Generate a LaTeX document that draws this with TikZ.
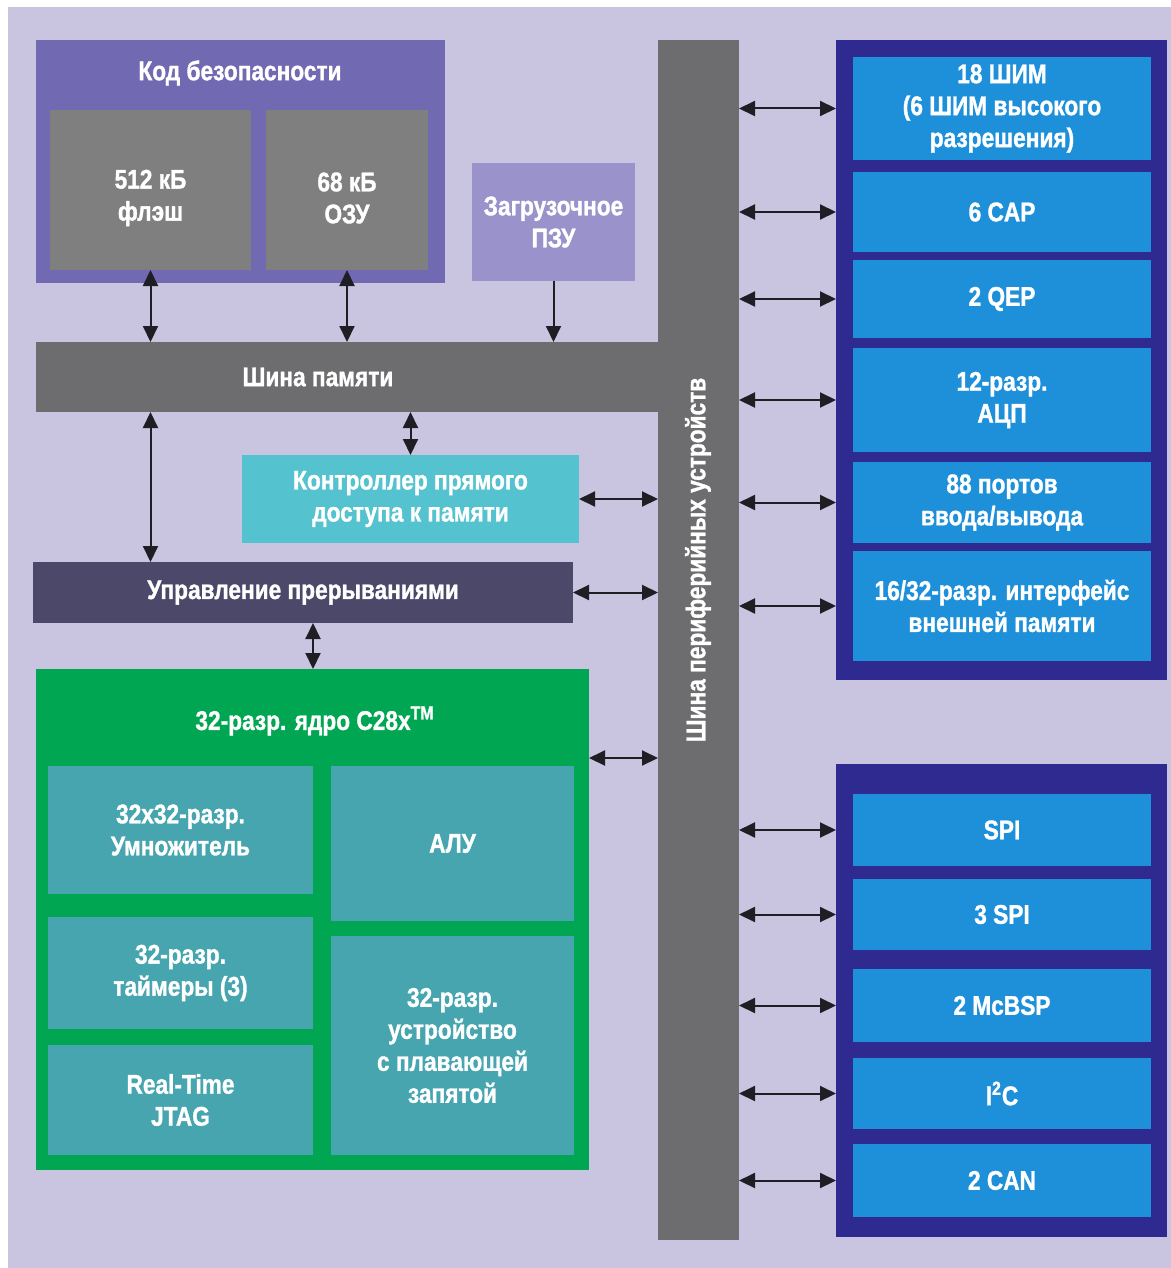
\documentclass[tikz,border=0pt]{standalone}
\usepackage{fontspec}
\setmainfont{Liberation Sans}[FakeStretch=0.84, BoldFeatures={FakeBold=1.2}]
\usetikzlibrary{arrows.meta,fit,calc}

\definecolor{lav}{HTML}{C9C5E1}
\definecolor{secpurple}{HTML}{7269B3}
\definecolor{memgray}{HTML}{7F7F7F}
\definecolor{bootpurple}{HTML}{9A92CB}
\definecolor{busgray}{HTML}{6D6D70}
\definecolor{dmacyan}{HTML}{55C3CF}
\definecolor{irqslate}{HTML}{4B4869}
\definecolor{coregreen}{HTML}{00A651}
\definecolor{coreteal}{HTML}{46A5AF}
\definecolor{navy}{HTML}{2F2A8F}
\definecolor{periblue}{HTML}{1E90DA}
\definecolor{arrowink}{HTML}{1E1E24}

\begin{document}
\begin{tikzpicture}[x=0.5pt,y=-0.5pt,
  blk/.style={inner sep=0pt, outer sep=0pt},
  txt/.style={inner sep=0pt, text=white, align=center,
    font=\bfseries\fontsize{13.5}{16}\selectfont},
  % a filled block whose caption sits at its centre
  cap/.style={label={[txt]center:#1}},
  % same, caption set a little below the centre
  lowcap/.style={label={[txt, yshift=-4pt]center:#1}},
  bi/.style={{Triangle[length=8pt,width=7.5pt]}-{Triangle[length=8pt,width=7.5pt]},
    line width=1pt, draw=arrowink},
  one/.style={-{Triangle[length=8pt,width=7.5pt]}, line width=1pt, draw=arrowink}]

% page and backdrop
\fill[white] (0,0) rectangle (1171,1268);
\fill[lav] (8,7) rectangle (1171,1268);
\useasboundingbox (0,0) rectangle (1171,1268);

% memory section
\node[blk, fill=secpurple, fit={(36,40) (445,283)}] (sec) {};
\node[txt] (sectitle) at (240,73) {Код безопасности};
\node[blk, fill=memgray, fit={(50,110) (251,270)}, lowcap={512 кБ\\флэш}] (flash) {};
\node[blk, fill=memgray, fit={(266,110) (428,270)}, lowcap={68 кБ\\ОЗУ}] (ram) {};
\node[blk, fill=bootpurple, fit={(472,163) (635,281)}, cap={Загрузочное\\ПЗУ}] (boot) {};

% buses
\node[blk, fill=busgray, fit={(36,342) (660,412)}] (membus) {};
\node[txt] (membuslabel) at (318,377) {Шина памяти};
\node[blk, fill=busgray, fit={(658,40) (739,1240)}] (pbus) {};
\node[txt, rotate=90] (pbuslabel) at (698,560) {Шина периферийных устройств};

% DMA and interrupts
\node[blk, fill=dmacyan, fit={(242,455) (579,543)}, cap={Контроллер прямого\\доступа к памяти}] (dma) {};
\node[blk, fill=irqslate, fit={(33,562) (573,623)}, cap={Управление прерываниями}] (irq) {};

% CPU core
\node[blk, fill=coregreen, fit={(36,669) (589,1170)}] (core) {};
\node[txt] (coretitle) at (315,721) {32-разр. ядро C28x\textsuperscript{TM}};
\node[blk, fill=coreteal, fit={(48,766) (313,894)}, cap={32x32-разр.\\Умножитель}] (mult) {};
\node[blk, fill=coreteal, fit={(331,766) (574,921)}, cap={АЛУ}] (alu) {};
\node[blk, fill=coreteal, fit={(48,917) (313,1029)}, cap={32-разр.\\таймеры (3)}] (timers) {};
\node[blk, fill=coreteal, fit={(48,1045) (313,1155)}, cap={Real-Time\\JTAG}] (jtag) {};
\node[blk, fill=coreteal, fit={(331,936) (574,1155)}, cap={32-разр.\\устройство\\с плавающей\\запятой}] (fpu) {};

% control peripherals
\node[blk, fill=navy, fit={(836,40) (1167,680)}] (up) {};
\node[blk, fill=periblue, fit={(853,57) (1151,160)}, cap={18 ШИМ\\(6 ШИМ высокого\\разрешения)}] (pwm) {};
\node[blk, fill=periblue, fit={(853,172) (1151,252)}, cap={6 CAP}] (capt) {};
\node[blk, fill=periblue, fit={(853,260) (1151,338)}, cap={2 QEP}] (qep) {};
\node[blk, fill=periblue, fit={(853,348) (1151,452)}, cap={12-разр.\\АЦП}] (adc) {};
\node[blk, fill=periblue, fit={(853,462) (1151,543)}, cap={88 портов\\ввода/вывода}] (gpio) {};
\node[blk, fill=periblue, fit={(853,551) (1151,661)}, cap={16/32-разр. интерфейс\\внешней памяти}] (xintf) {};

% communication peripherals
\node[blk, fill=navy, fit={(836,764) (1167,1237)}] (lo) {};
\node[blk, fill=periblue, fit={(853,794) (1151,866)}, cap={SPI}] (spi) {};
\node[blk, fill=periblue, fit={(853,879) (1151,950)}, cap={3 SPI}] (spib) {};
\node[blk, fill=periblue, fit={(853,969) (1151,1042)}, cap={2 McBSP}] (mcbsp) {};
\node[blk, fill=periblue, fit={(853,1058) (1151,1129)}, cap={I\textsuperscript{2}C}] (i2c) {};
\node[blk, fill=periblue, fit={(853,1144) (1151,1217)}, cap={2 CAN}] (can) {};

% memory connections
\draw[bi] (flash.south) -- (flash.south |- membus.north);
\draw[bi] (ram.south) -- (ram.south |- membus.north);
\draw[one] (boot.south) -- (boot.south |- membus.north);
\draw[bi] (flash.south |- membus.south) -- (flash.south |- irq.north);
\draw[bi] (dma.north |- membus.south) -- (dma.north);
\draw[bi] (mult.north east |- irq.south) -- (mult.north east |- core.north);

% links to the peripheral bus
\draw[bi] (dma.east) -- (dma.east -| pbus.west);
\draw[bi] (irq.east) -- (irq.east -| pbus.west);
\coordinate (corelink) at ($(core.north east)+(0,89)$);
\draw[bi] (corelink) -- (corelink -| pbus.west);
\foreach \p in {pwm,capt,qep,adc,gpio,xintf,spi,spib,mcbsp,i2c,can}
  \draw[bi] (\p.west -| pbus.east) -- (\p.west -| up.west);
\end{tikzpicture}
\end{document}
